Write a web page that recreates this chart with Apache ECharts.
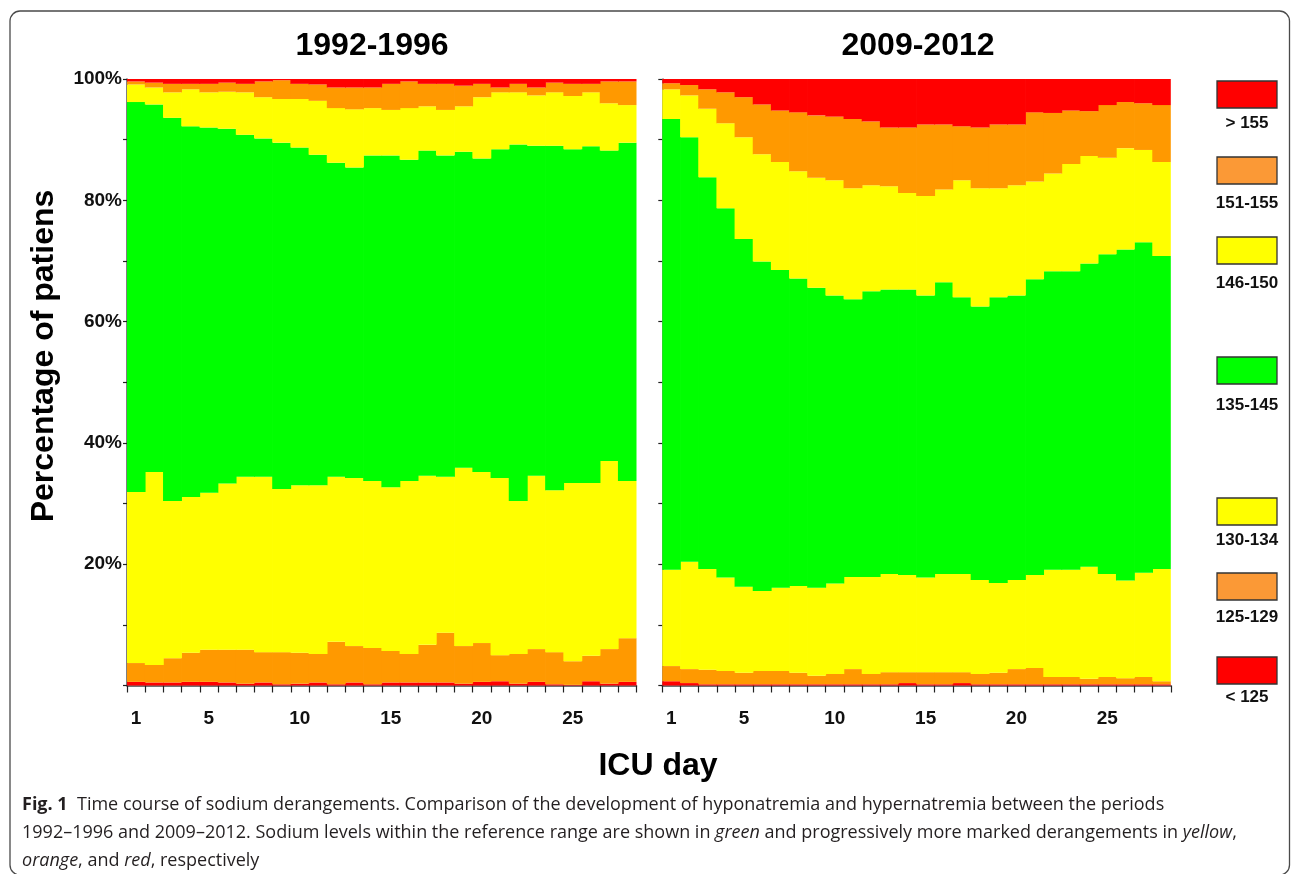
<!DOCTYPE html>
<html>
<head>
<meta charset="utf-8">
<script src="https://cdn.jsdelivr.net/npm/echarts@6/dist/echarts.min.js"></script>
<style>
html,body{margin:0;padding:0;background:#fff;}
#chart{width:1293px;height:874px;}
</style>
</head>
<body>
<div id="chart"></div>
<script>
// ---- data ----
const days = ['1','2','3','4','5','6','7','8','9','10','11','12','13','14','15','16','17','18','19','20','21','22','23','24','25','26','27','28'];
const dayLabels = ['1','5','10','15','20','25'];
const yTickLabels = [20, 40, 60, 80, 100];
const periods = ['1992-1996', '2009-2012'];
const bands = ['< 125', '125-129', '130-134', '135-145', '146-150', '151-155', '> 155'];

// 1992-1996 (% of patients per sodium band, per ICU day)
const p1_lt125   = [0.6,0.5,0.5,0.6,0.6,0.5,0.3,0.5,0.2,0.3,0.5,0.2,0.5,0.2,0.5,0.5,0.5,0.5,0.3,0.6,0.7,0.3,0.6,0.2,0.1,0.7,0.3,0.6];
const p1_125_129 = [3.1,2.9,4.0,4.8,5.3,5.4,5.6,5.0,5.3,5.1,4.7,7.0,6.0,6.0,5.2,4.7,6.2,8.2,6.2,6.4,4.3,4.9,5.4,5.3,3.9,4.2,5.7,7.2];
const p1_130_134 = [28.2,31.8,25.9,25.7,25.9,27.4,28.5,28.9,26.9,27.6,27.8,27.2,27.7,27.5,27.0,28.5,27.9,25.7,29.4,28.2,29.2,25.2,28.6,26.7,29.4,28.5,31.0,25.9];
const p1_135_145 = [64.3,60.6,63.2,61.1,60.2,58.5,56.4,55.8,57.1,55.7,54.5,51.8,51.2,53.7,54.7,53.0,53.6,53.0,52.1,51.7,54.2,58.8,54.4,56.8,55.0,55.5,51.2,55.8];
const p1_146_150 = [2.9,2.8,4.2,6.1,5.8,6.1,7.0,6.8,7.2,8.0,8.9,9.0,9.6,7.8,7.5,8.5,7.3,7.5,7.5,10.1,9.4,8.6,8.3,8.8,8.8,8.9,7.8,6.2];
const p1_151_155 = [0.5,0.8,1.4,0.9,1.4,1.5,1.4,2.6,3.1,2.5,2.7,3.4,3.6,3.4,4.3,4.4,3.7,4.3,3.4,2.2,0.8,1.4,1.3,1.6,2.0,1.4,3.6,3.9];
const p1_gt155   = [0.4,0.6,0.8,0.8,0.8,0.6,0.8,0.4,0.2,0.8,0.9,1.4,1.4,1.4,0.8,0.4,0.8,0.8,1.1,0.8,1.4,0.8,1.4,0.6,0.8,0.8,0.4,0.4];

// 2009-2012
const p2_lt125   = [0.7,0.4,0.2,0.2,0.2,0.2,0.2,0.2,0.2,0.2,0.2,0.2,0.2,0.4,0.2,0.2,0.4,0.2,0.2,0.2,0.2,0.2,0.2,0.2,0.2,0.2,0.2,0.2];
const p2_125_129 = [2.5,2.3,2.4,2.2,1.9,2.2,2.2,1.9,1.4,1.7,2.5,1.7,2.0,1.8,2.0,2.0,1.8,1.7,1.9,2.5,2.7,1.2,1.2,0.9,1.2,1.0,1.2,0.5];
const p2_130_134 = [15.9,17.7,16.6,15.4,14.2,13.2,13.7,14.3,14.5,14.9,15.2,16.0,16.2,16.0,15.6,16.2,16.2,15.5,14.8,14.7,15.3,17.7,17.7,18.5,17.0,16.1,17.2,18.5];
const p2_135_145 = [74.3,70.0,64.6,60.9,57.3,54.3,52.4,50.7,49.5,47.5,45.8,47.1,46.9,47.1,46.5,48.1,45.6,45.1,47.1,46.9,48.8,49.2,49.2,50.0,52.7,54.6,54.5,51.6];
const p2_146_150 = [4.9,6.9,11.3,14.0,16.8,17.7,17.8,17.7,18.1,19.0,18.3,17.5,17.0,15.9,16.4,15.3,19.3,19.5,18.0,18.2,16.1,16.1,17.7,17.7,15.9,16.7,15.2,15.5];
const p2_151_155 = [1.0,1.7,3.2,5.1,6.6,8.2,8.5,9.7,10.3,10.5,11.4,10.5,9.7,10.8,11.8,10.7,8.9,10.0,10.5,10.0,11.4,10.0,8.8,7.4,8.7,7.6,7.7,9.4];
const p2_gt155   = [0.7,1.0,1.7,2.2,3.0,4.2,5.2,5.5,6.0,6.2,6.6,7.0,8.0,8.0,7.5,7.5,7.8,8.0,7.5,7.5,5.5,5.6,5.2,5.3,4.3,3.8,4.0,4.3];

const barColors = ['#ff0000', '#ff9900', '#ffff00', '#00ff00', '#ffff00', '#ff9900', '#ff0000'];
const legendColors = ['#ff0000', '#fb9936', '#ffff00', '#00ff00', '#ffff00', '#fb9936', '#ff0000'];

const periodData = [
  [p1_lt125, p1_125_129, p1_130_134, p1_135_145, p1_146_150, p1_151_155, p1_gt155],
  [p2_lt125, p2_125_129, p2_130_134, p2_135_145, p2_146_150, p2_151_155, p2_gt155]
];

// ---- layout ----
const FONT = '"Liberation Sans", Arial, Helvetica, sans-serif';
const grids = [
  {left: 127, top: 79, width: 509.5, height: 606.5},
  {left: 662.3, top: 79, width: 508.5, height: 606.5}
];

const xAxes = grids.map((g, i) => ({
  type: 'category', gridIndex: i, data: days,
  boundaryGap: true,
  axisLine: {show: true, onZero: false, lineStyle: {color: '#444', width: 1.5}},
  axisTick: {show: true, interval: 0, length: 7, lineStyle: {color: '#222', width: 1.2}},
  axisLabel: {
    interval: (idx, val) => dayLabels.includes(val),
    margin: 24, fontFamily: FONT, fontWeight: 'bold', fontSize: 19, color: '#111'
  },
  splitLine: {show: false}
}));

const yAxes = grids.map((g, i) => ({
  type: 'value', gridIndex: i, min: 0, max: 100, interval: 10,
  axisLine: {show: true, lineStyle: {color: '#555', width: 1.5}},
  axisTick: {show: true, length: 4, lineStyle: {color: '#222', width: 1.2}},
  axisLabel: {
    show: i === 0,
    formatter: v => yTickLabels.includes(v) ? v + '%' : '',
    margin: 5, fontFamily: FONT, fontWeight: 'bold', fontSize: 19, color: '#111'
  },
  splitLine: {show: false}
}));

const series = [];
periodData.forEach((layers, pi) => {
  layers.forEach((arr, bi) => {
    series.push({
      type: 'bar', name: bands[bi], stack: 'p' + pi,
      xAxisIndex: pi, yAxisIndex: pi,
      data: arr, barWidth: '104%', barGap: '0%',
      itemStyle: {color: barColors[bi]},
      z: 1,
      silent: true
    });
  });
});

// legend (top to bottom)
const legendOrder = [6, 5, 4, 3, 2, 1, 0];
const legendBoxTops = [81, 157, 237, 357, 498, 573, 657];
const legendLabelY = [123, 203, 283, 405, 540, 617, 697];
const graphics = [];
graphics.push({
  type: 'rect', shape: {x: 10, y: 11, width: 1279.5, height: 864, r: 10},
  style: {fill: 'none', stroke: '#4a4a4a', lineWidth: 1.3}, z: 0, silent: true
});
legendOrder.forEach((bi, k) => {
  graphics.push({
    type: 'rect', shape: {x: 1217, y: legendBoxTops[k], width: 60, height: 27},
    style: {fill: legendColors[bi], stroke: '#333', lineWidth: 1.3}, silent: true
  });
  graphics.push({
    type: 'text', x: 1247, y: legendLabelY[k],
    style: {text: bands[bi], textAlign: 'center', textVerticalAlign: 'middle',
      font: 'bold 17px ' + FONT, fill: '#111'}, silent: true
  });
});
// panel titles
const titleX = [372, 918];
periods.forEach((p, i) => {
  graphics.push({
    type: 'text', x: titleX[i], y: 46,
    style: {text: p, textAlign: 'center', textVerticalAlign: 'middle',
      font: 'bold 32px ' + FONT, fill: '#000'}, silent: true
  });
});
// axis names
graphics.push({
  type: 'text', x: 44, y: 356, rotation: Math.PI / 2,
  style: {text: 'Percentage of patiens', textAlign: 'center', textVerticalAlign: 'middle',
    font: 'bold 32px ' + FONT, fill: '#000'}, silent: true
});
graphics.push({
  type: 'text', x: 658, y: 766,
  style: {text: 'ICU day', textAlign: 'center', textVerticalAlign: 'middle',
    font: 'bold 32px ' + FONT, fill: '#000'}, silent: true
});
// caption
const CAP = '"Open Sans", "Noto Sans", sans-serif';
const CAPSIZE = 18;
const capRich = {
  b: {fontFamily: CAP, fontWeight: 'bold', fontSize: CAPSIZE, fill: '#231f20'},
  i: {fontFamily: CAP, fontStyle: 'italic', fontSize: CAPSIZE, fill: '#231f20'}
};
const captionLines = [
  '{b|Fig. 1}  Time course of sodium derangements. Comparison of the development of hyponatremia and hypernatremia between the periods',
  '1992–1996 and 2009–2012. Sodium levels within the reference range are shown in {i|green} and progressively more marked derangements in {i|yellow},',
  '{i|orange}, and {i|red}, respectively'
];
const captionY = [805, 833, 861];
captionLines.forEach((t, k) => {
  graphics.push({
    type: 'text', x: 22, y: captionY[k],
    style: {text: t, textAlign: 'left', textVerticalAlign: 'middle',
      fontFamily: CAP, fontSize: CAPSIZE, fill: '#231f20', rich: capRich}, silent: true
  });
});

const chart = echarts.init(document.getElementById('chart'), null, {renderer: 'canvas'});
chart.setOption({
  animation: false,
  backgroundColor: '#fff',
  grid: grids,
  xAxis: xAxes,
  yAxis: yAxes,
  series: series,
  graphic: graphics
});
</script>
</body>
</html>
